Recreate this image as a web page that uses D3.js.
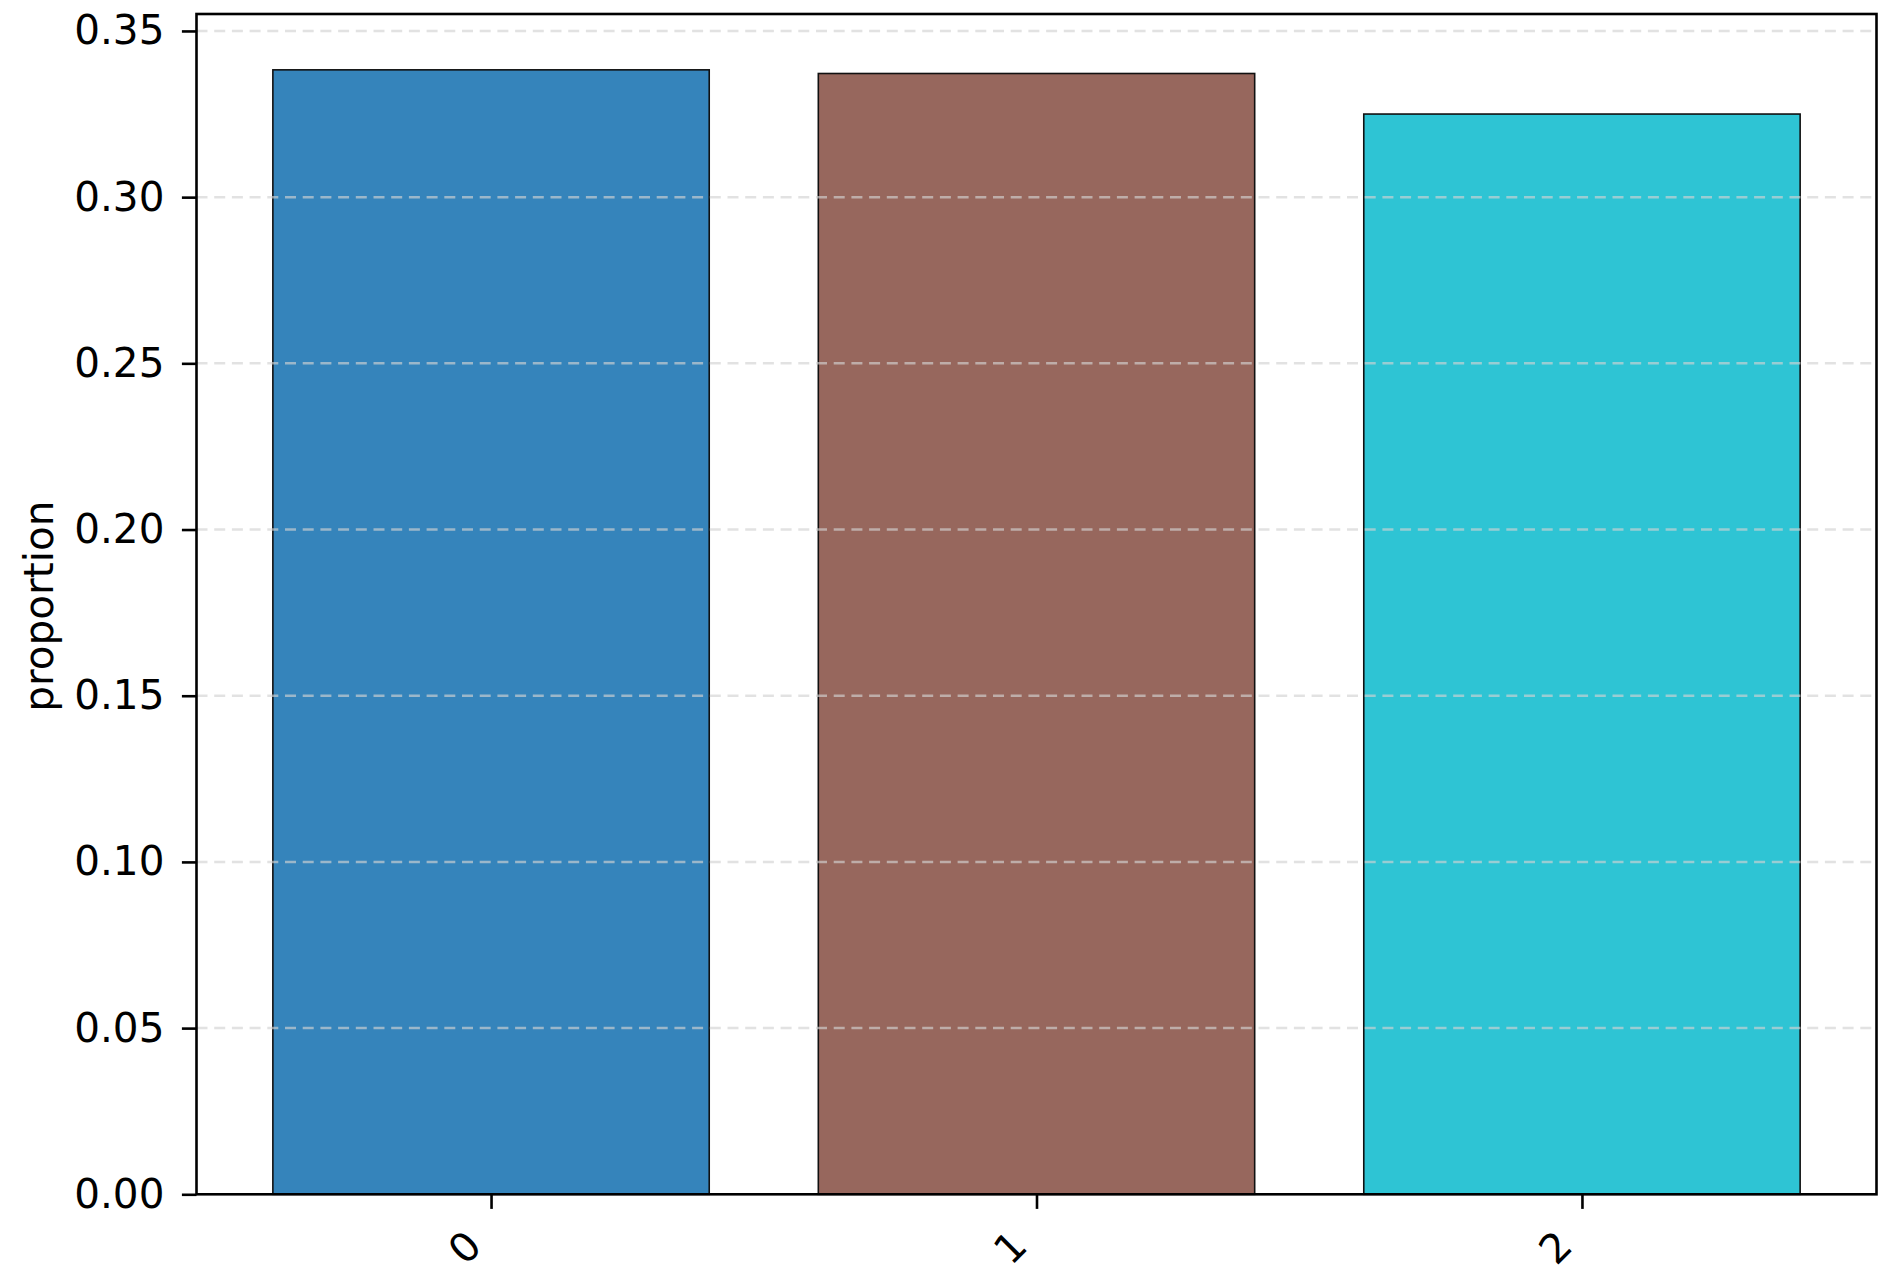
<!DOCTYPE html>
<html>
<head>
<meta charset="utf-8">
<script src="https://cdn.jsdelivr.net/npm/d3@7"></script>
<style>
  body { margin: 0; background: #fff; }
  svg text { font-family: "DejaVu Sans", sans-serif; fill: #000; }
</style>
</head>
<body>
<svg class="chart"></svg>
<script>
// data
var categories = ['0', '1', '2'];
var values = [0.3383, 0.3372, 0.3250];
var colors = ['#1f77b4', '#8c564b', '#17becf'];
var yTicks = [0, 0.05, 0.10, 0.15, 0.20, 0.25, 0.30, 0.35];

var W = 1890, H = 1287;
var fontSize = "40.5px";
var margin = {top: 14, right: 14, bottom: 93, left: 196.5},
    width = 1876.5 - margin.left,
    height = 1194.3 - margin.top;

var svg = d3.select(".chart")
    .attr("width", W)
    .attr("height", H);

var chart = svg.append("g")
    .attr("transform", "translate(" + margin.left + "," + margin.top + ")");

// x - matplotlib style: bar width 0.8, margins 0.05
var n = categories.length;
var x = d3.scaleLinear()
    .domain([-0.4 - 0.05 * (n - 0.2), (n - 1) + 0.4 + 0.05 * (n - 0.2)])
    .range([0, width]);

// y
var y = d3.scaleLinear()
    .domain([0, 0.3551])
    .range([height, 0]);

// bars
chart.selectAll(".bar")
    .data(values)
  .enter().append("rect")
    .attr("class", "bar")
    .attr("x", function(d, i) { return x(i - 0.4); })
    .attr("width", function(d, i) { return x(i + 0.4) - x(i - 0.4); })
    .attr("y", function(d) { return y(d); })
    .attr("height", function(d) { return y(0) - y(d); })
    .attr("fill", function(d, i) { return colors[i]; })
    .attr("fill-opacity", 0.9)
    .attr("stroke", "#111")
    .attr("stroke-width", 1.6);

// grid on top, faint
chart.append("g")
    .attr("class", "grid")
  .selectAll("line")
    .data(yTicks.slice(1))
  .enter().append("line")
    .attr("x1", 0)
    .attr("x2", width)
    .attr("y1", function(d) { return y(d); })
    .attr("y2", function(d) { return y(d); })
    .attr("stroke", "#d3d3d3")
    .attr("stroke-opacity", 0.65)
    .attr("stroke-width", 2.5)
    .attr("stroke-dasharray", "11,6.7");

// y axis
var yAxis = d3.axisLeft(y)
    .tickValues(yTicks)
    .tickFormat(d3.format(".2f"))
    .tickSize(14.6)
    .tickPadding(17.5);

var gy = chart.append("g")
    .attr("class", "y axis")
    .call(yAxis);
gy.select(".domain").remove();
gy.selectAll(".tick line").attr("stroke", "#000").attr("stroke-width", 2.6);
gy.selectAll(".tick text").style("font-size", fontSize);

// x axis
var xAxis = d3.axisBottom(x)
    .tickValues(d3.range(n))
    .tickFormat(function(i) { return categories[i]; })
    .tickSize(14.6);

var gx = chart.append("g")
    .attr("class", "x axis")
    .attr("transform", "translate(0," + height + ")")
    .call(xAxis);
gx.select(".domain").remove();
gx.selectAll(".tick line").attr("stroke", "#000").attr("stroke-width", 2.6);
gx.selectAll(".tick text")
    .style("font-size", fontSize)
    .attr("y", 0)
    .attr("dy", "0.35em")
    .attr("text-anchor", "middle")
    .attr("transform", "translate(-27,53) rotate(-45)");

// spines
chart.append("rect")
    .attr("x", 0)
    .attr("y", 0)
    .attr("width", width)
    .attr("height", height)
    .attr("fill", "none")
    .attr("stroke", "#000")
    .attr("stroke-width", 2.6);

// y label
chart.append("text")
    .attr("transform", "translate(" + (53.3 - margin.left) + "," + (height / 2 + 2) + ") rotate(-90)")
    .attr("text-anchor", "middle")
    .style("font-size", fontSize)
    .text("proportion");
</script>
</body>
</html>
